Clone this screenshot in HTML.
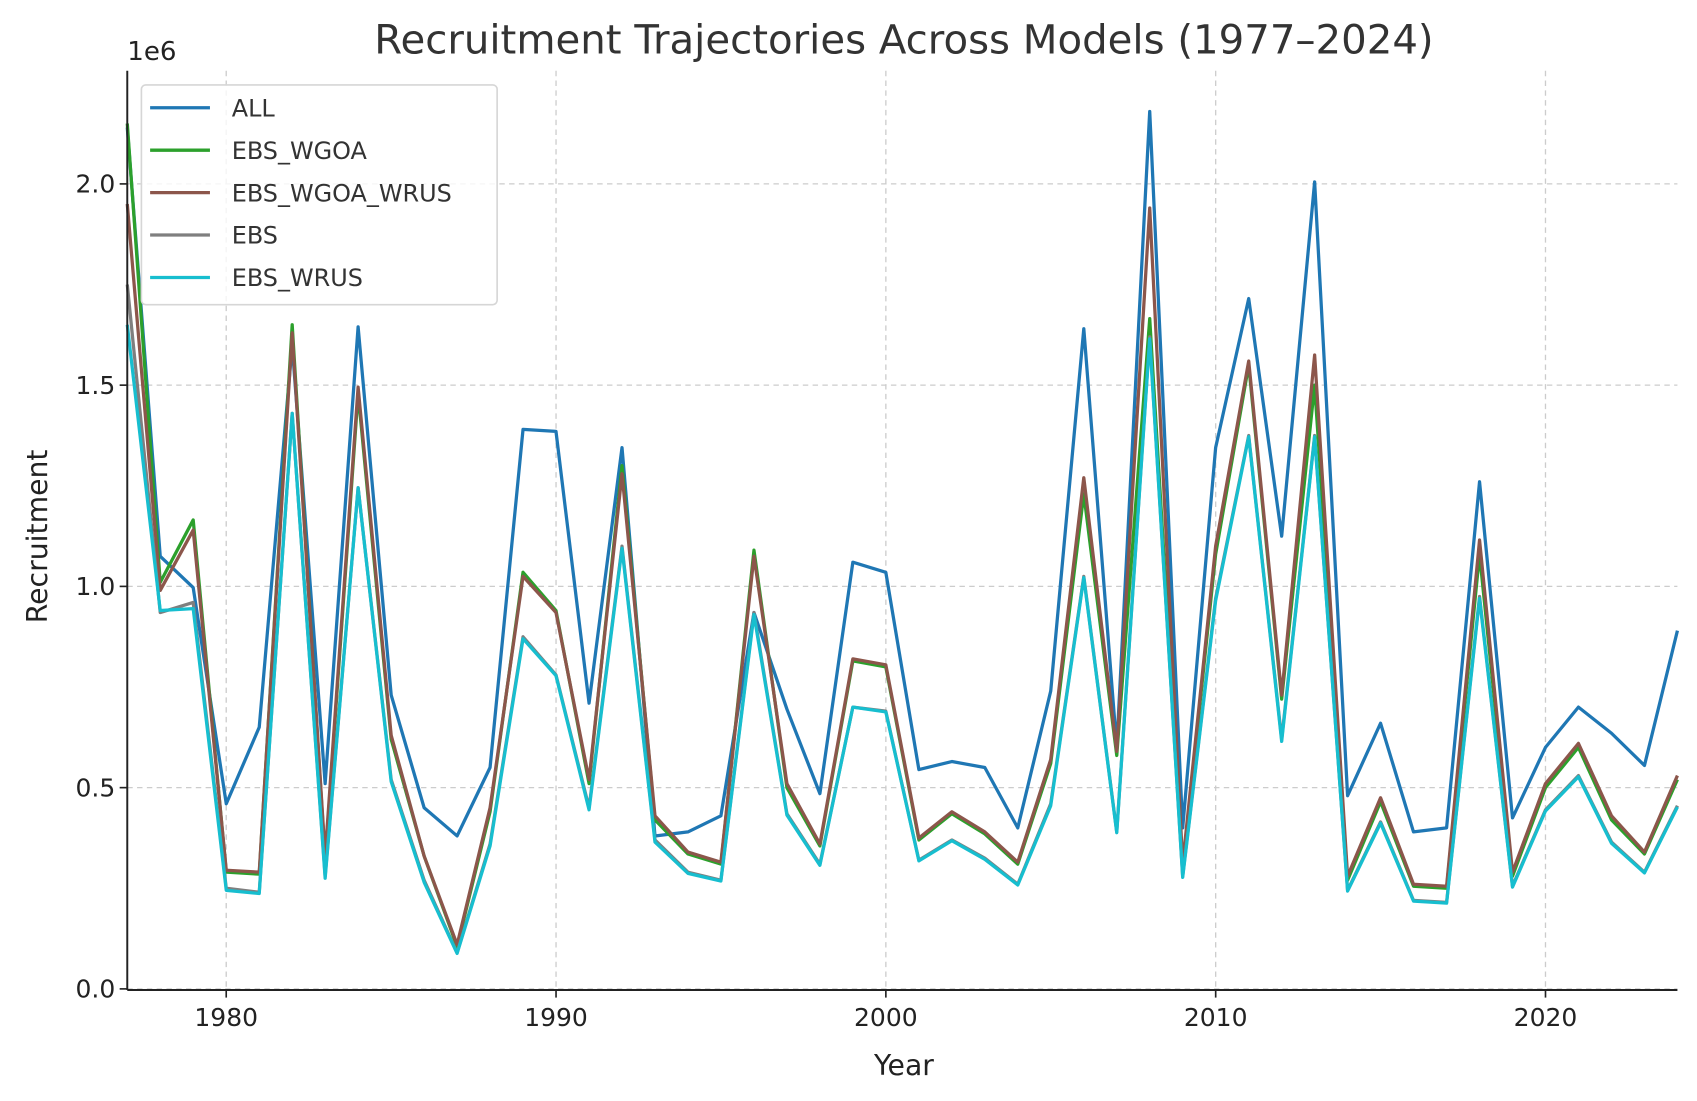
<!DOCTYPE html>
<html><head><meta charset="utf-8"><style>
body{margin:0;background:#fff}
svg{display:block;font-family:"DejaVu Sans","Liberation Sans",sans-serif}
</style></head><body>
<svg id="chart" width="1697" height="1101" viewBox="0 0 1560 1012" xmlns="http://www.w3.org/2000/svg">
<rect width="1560" height="1012" fill="#fff"/>
<g id="grid"></g>
<g id="series"></g>
<g id="axes"></g>
<text x="831" y="49" text-anchor="middle" font-size="37" fill="#333">Recruitment Trajectories Across Models (1977–2024)</text>
<text x="831" y="988" text-anchor="middle" font-size="26" fill="#222">Year</text>
<text transform="translate(43,493) rotate(-90)" text-anchor="middle" font-size="26" fill="#222">Recruitment</text>
<text x="117" y="55" font-size="24" fill="#222">1e6</text>
<g id="legend"></g>
</svg>
<script>
const years=[];for(let y=1977;y<=2024;y++)years.push(y);
const seriesNames=["ALL","EBS_WGOA","EBS_WGOA_WRUS","EBS","EBS_WRUS"];
const seriesColors=["#1f77b4","#2ca02c","#8c564b","#7f7f7f","#17becf"];
const allVals=[2.14,1.075,0.997,0.46,0.65,1.6,0.51,1.645,0.73,0.45,0.38,0.55,1.39,1.385,0.71,1.345,0.38,0.39,0.43,0.935,0.695,0.485,1.06,1.035,0.545,0.565,0.55,0.40,0.74,1.64,0.60,2.18,0.40,1.345,1.715,1.125,2.005,0.48,0.66,0.39,0.40,1.26,0.425,0.60,0.70,0.635,0.555,0.89];
const wgoaVals=[2.15,1.01,1.165,0.29,0.285,1.65,0.32,1.48,0.62,0.33,0.105,0.44,1.035,0.94,0.51,1.3,0.42,0.335,0.31,1.09,0.50,0.355,0.815,0.80,0.37,0.435,0.385,0.31,0.56,1.23,0.58,1.665,0.30,1.08,1.55,0.72,1.5,0.27,0.465,0.255,0.25,1.08,0.28,0.50,0.60,0.42,0.335,0.52];
const wgoaWrusVals=[1.95,0.99,1.14,0.295,0.29,1.63,0.33,1.495,0.63,0.33,0.11,0.45,1.025,0.935,0.52,1.28,0.43,0.34,0.315,1.075,0.51,0.36,0.82,0.805,0.375,0.44,0.39,0.315,0.57,1.27,0.59,1.94,0.31,1.10,1.56,0.73,1.575,0.28,0.475,0.26,0.255,1.115,0.29,0.51,0.61,0.43,0.34,0.53];
const ebsVals=[1.75,0.935,0.96,0.25,0.24,1.43,0.28,1.245,0.52,0.27,0.09,0.36,0.875,0.78,0.45,1.10,0.37,0.29,0.27,0.935,0.435,0.31,0.70,0.69,0.32,0.37,0.325,0.26,0.46,1.025,0.39,1.62,0.28,0.97,1.375,0.62,1.375,0.245,0.415,0.22,0.215,0.975,0.255,0.445,0.53,0.365,0.29,0.455];
const ebsWrusVals=[1.65,0.94,0.945,0.245,0.237,1.43,0.275,1.245,0.515,0.265,0.088,0.355,0.87,0.778,0.445,1.095,0.365,0.287,0.268,0.93,0.432,0.307,0.70,0.688,0.318,0.368,0.322,0.258,0.455,1.022,0.388,1.615,0.277,0.965,1.372,0.615,1.372,0.243,0.412,0.218,0.213,0.97,0.253,0.442,0.527,0.362,0.288,0.452];
const xTicks=[1980,1990,2000,2010,2020];
const yTicks=[0,0.5,1.0,1.5,2.0];
const yTickLabels=["0.0","0.5","1.0","1.5","2.0"];
const allSeries=[allVals,wgoaVals,wgoaWrusVals,ebsVals,ebsWrusVals];

const L=117,R=1542,T=65,B=910,y0=909,ppu=370;
const xs=v=>L+(v-1977)*(R-L)/(2024-1977);
const ys=v=>y0-v*ppu;
const NS="http://www.w3.org/2000/svg";
function mk(tag,attrs,parent){const e=document.createElementNS(NS,tag);for(const k in attrs)e.setAttribute(k,attrs[k]);parent.appendChild(e);return e;}
const grid=document.getElementById('grid'),axes=document.getElementById('axes'),ser=document.getElementById('series'),leg=document.getElementById('legend');
xTicks.forEach(t=>{
  const g=mk('line',{x1:xs(t),x2:xs(t),y1:T,y2:B,stroke:'#ccc','stroke-width':1.2,'stroke-dasharray':'5,4'},grid);
  
  
  const tk=mk('line',{x1:xs(t),x2:xs(t),y1:B,y2:B+7,stroke:'#222','stroke-width':1.5},axes);
  
  
  const tl=mk('text',{x:xs(t),y:B+33,'text-anchor':'middle','font-size':23,fill:'#222'},axes);
  tl.textContent=t;
  
  
});
yTicks.forEach((t,i)=>{
  const g=mk('line',{x1:L,x2:R,y1:ys(t),y2:ys(t),stroke:'#ccc','stroke-width':1.2,'stroke-dasharray':'5,4'},grid);
  
  
  const tk=mk('line',{x1:L-7,x2:L,y1:ys(t),y2:ys(t),stroke:'#222','stroke-width':1.5},axes);
  
  
  const tl=mk('text',{x:L-11,y:ys(t)+8,'text-anchor':'end','font-size':23,fill:'#222'},axes);
  tl.textContent=yTickLabels[i];
  
  
});
const sp1=mk('line',{x1:L,x2:L,y1:T,y2:B,stroke:'#222','stroke-width':1.8},axes);


const sp2=mk('line',{x1:L,x2:R,y1:B,y2:B,stroke:'#222','stroke-width':1.8},axes);


allSeries.forEach((vals,si)=>{
  const d=vals.map((v,i)=>(i?'L':'M')+xs(years[i]).toFixed(1)+','+ys(v).toFixed(1)).join('');
  const p=mk('path',{d:d,fill:'none',stroke:seriesColors[si],'stroke-width':3,'stroke-linejoin':'round'},ser);
  
  
});
const box=mk('rect',{x:130,y:78,width:327,height:202,rx:4,fill:'rgba(255,255,255,0.8)',stroke:'#d6d6d6','stroke-width':1.5},leg);


seriesNames.forEach((n,i)=>{
  const yy=99+i*39;
  const ln=mk('line',{x1:138,x2:193,y1:yy,y2:yy,stroke:seriesColors[i],'stroke-width':3},leg);
  
  
  const tx=mk('text',{x:213,y:yy+8,'font-size':22,fill:'#333'},leg);
  tx.textContent=n;
  
  
});
</script>
</body></html>
